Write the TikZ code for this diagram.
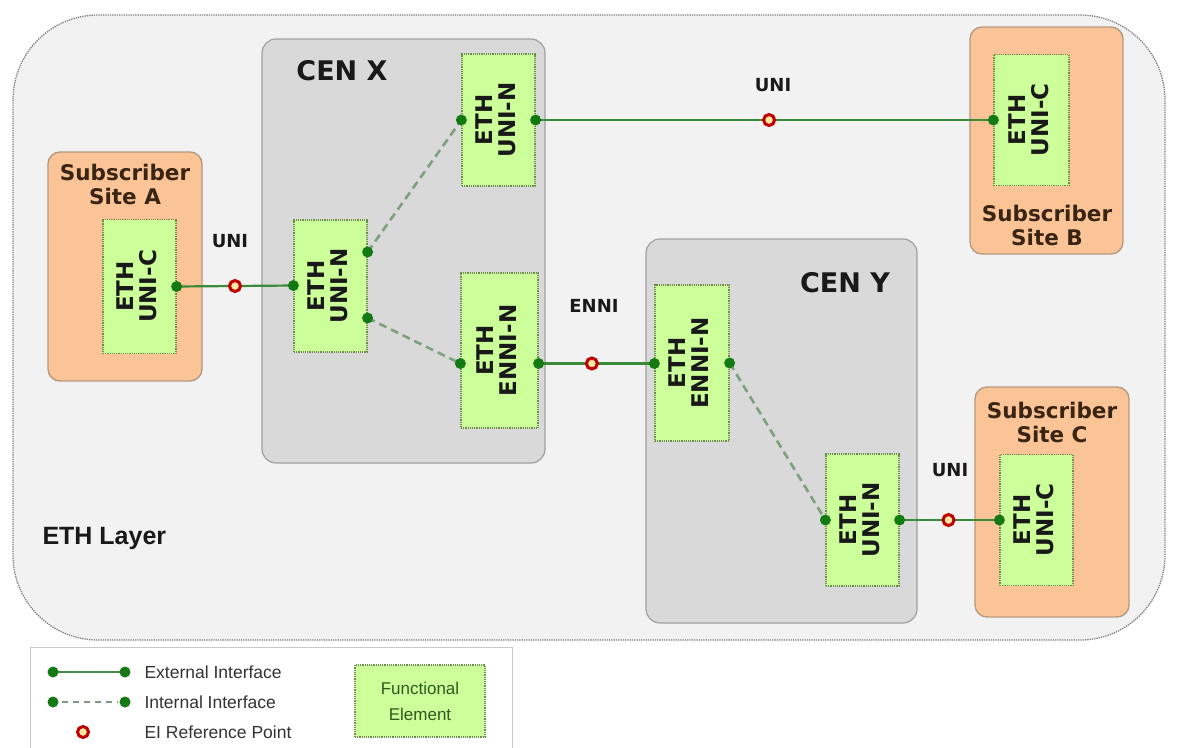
\documentclass[tikz,border=0pt]{standalone}
\usepackage{fontspec}
\setmainfont{Liberation Sans}
\newfontfamily\vfont{DejaVu Sans}
\definecolor{outerfill}{HTML}{F2F2F2}
\definecolor{outerline}{HTML}{7F7F7F}
\definecolor{cenfill}{HTML}{D9D9D9}
\definecolor{cenline}{HTML}{A0A0A0}
\definecolor{sitefill}{HTML}{FAC497}
\definecolor{siteline}{HTML}{B59A80}
\definecolor{fefill}{HTML}{CCFF99}
\definecolor{feline}{HTML}{6E8A4A}
\definecolor{dotgreen}{HTML}{137A13}
\definecolor{extgreen}{HTML}{3A8A3A}
\definecolor{intgreen}{HTML}{7FA07F}
\definecolor{refred}{HTML}{C00000}
\definecolor{refin}{HTML}{FFE7A6}
\definecolor{sitetext}{HTML}{3A2414}
\definecolor{legendline}{HTML}{C8C8C8}
\definecolor{legendfe}{HTML}{2E5A1E}
\newcommand\fel[1]{\rotatebox{90}{\begin{tabular}{@{}c@{}}#1\end{tabular}}}
\begin{document}
\begin{tikzpicture}[x=1pt,y=-1pt,
  outerbox/.style={draw=outerline, densely dotted, line width=1.3pt, fill=outerfill, rounded corners=85pt},
  cenbox/.style={draw=cenline, line width=1.2pt, fill=cenfill, rounded corners=14pt},
  sitebox/.style={draw=siteline, line width=1.4pt, fill=sitefill, rounded corners=12pt},
  fe/.style={draw=feline, densely dotted, line width=1.2pt, fill=fefill, inner sep=0pt,
    font=\vfont\bfseries\fontsize{23}{21}\selectfont, text=black!90},
  ext/.style={draw=extgreen, line width=2.2pt},
  intl/.style={draw=intgreen, line width=2.6pt, dash pattern=on 8pt off 5pt},
  refpt/.style={circle, draw=refred, line width=3pt, fill=refin, minimum size=11pt, inner sep=0pt},
  dotc/.style={fill=dotgreen},
  sitelbl/.style={font=\vfont\bfseries\fontsize{21.5}{24}\selectfont, text=sitetext, align=center},
  cenlbl/.style={font=\vfont\bfseries\fontsize{27}{30}\selectfont, text=black!90},
  iflbl/.style={font=\vfont\bfseries\fontsize{18}{20}\selectfont, text=black!90},
  legtext/.style={font=\fontsize{17.5}{20}\selectfont, text=black!80, anchor=west}
]
\useasboundingbox (0,0) rectangle (1177,747);
\fill[white] (0,0) rectangle (1177,747);

% ETH layer
\draw[outerbox] (13,15) rectangle (1165,640);
\node[font=\bfseries\fontsize{25}{28}\selectfont, text=black!90, anchor=west] (ethlayer) at (39,538) {ETH Layer};

% CENs
\draw[cenbox] (262,39) rectangle (545,463);
\draw[cenbox] (646,239) rectangle (917,623);
\node[cenlbl] (cenx) at (342,71) {CEN X};
\node[cenlbl] (ceny) at (845,283) {CEN Y};

% Subscriber sites
\draw[sitebox] (48,152) rectangle (202,381);
\draw[sitebox] (970,27) rectangle (1123,254);
\draw[sitebox] (975,387) rectangle (1129,617);
\node[sitelbl] (sa) at (125,184) {Subscriber\\Site A};
\node[sitelbl] (sb) at (1047,225) {Subscriber\\Site B};
\node[sitelbl] (sc) at (1052,422) {Subscriber\\Site C};

% Functional elements
\node[fe, minimum width=73pt, minimum height=134pt] (feA) at (139.5,286.5) {\fel{ETH\\UNI-C}};
\node[fe, minimum width=73pt, minimum height=132pt] (cxU) at (498.5,120) {\fel{ETH\\UNI-N}};
\node[fe, minimum width=73pt, minimum height=132pt] (cxL) at (330.5,286) {\fel{ETH\\UNI-N}};
\node[fe, minimum width=77pt, minimum height=155pt] (cxE) at (499.5,350.5) {\fel{ETH\\ENNI-N}};
\node[fe, minimum width=74pt, minimum height=156pt] (cyE) at (692,363) {\fel{ETH\\ENNI-N}};
\node[fe, minimum width=73pt, minimum height=132pt] (cyU) at (862.5,520) {\fel{ETH\\UNI-N}};
\node[fe, minimum width=75pt, minimum height=131pt] (feB) at (1031.5,120) {\fel{ETH\\UNI-C}};
\node[fe, minimum width=73pt, minimum height=131pt] (feC) at (1036.5,520) {\fel{ETH\\UNI-C}};

% interface points
\coordinate (pA) at (feA.east);
\coordinate (pLw) at ([yshift=0.5pt]cxL.west);
\coordinate (pLu) at ([yshift=34pt]cxL.east);
\coordinate (pLd) at ([yshift=-32pt]cxL.east);
\coordinate (pUw) at (cxU.west);
\coordinate (pUe) at (cxU.east);
\coordinate (pEw) at ([yshift=-13pt]cxE.west);
\coordinate (pEe) at ([yshift=-13pt]cxE.east);
\coordinate (pYEw) at ([yshift=-0.5pt]cyE.west);
\coordinate (pYEe) at (cyE.east);
\coordinate (pYUw) at (cyU.west);
\coordinate (pYUe) at (cyU.east);
\coordinate (pB) at (feB.west);
\coordinate (pC) at (feC.west);

% internal interfaces
\draw[intl] (pLu) -- (pUw);
\draw[intl] (pLd) -- (pEw);
\draw[intl] (pYEe) -- (pYUw);

% external interfaces with reference points
\draw[ext] (pA) -- node[refpt, pos=0.5] (r1) {} (pLw);
\draw[ext] (pUe) -- node[refpt, pos=0.51] (r2) {} (pB);
\draw[ext] (pEe) -- node[refpt, pos=0.46] (r3) {} (pYEw);
\draw[ext] (pYUe) -- node[refpt, pos=0.49] (r4) {} (pC);

\foreach \p in {pA,pLw,pLu,pLd,pUw,pUe,pEw,pEe,pYEw,pYEe,pYUw,pYUe,pB,pC}
  \fill[dotc] (\p) circle (5.5pt);

\node[iflbl] (l1) at (230,241) {UNI};
\node[iflbl] (l2) at (773,85) {UNI};
\node[iflbl] (l3) at (594,306) {ENNI};
\node[iflbl] (l4) at (950,470) {UNI};

% legend
\draw[legendline, line width=0.8pt, fill=white] (30,647) rectangle (512,760);
\coordinate (e1) at (53,672); \coordinate (e2) at (125,672);
\coordinate (i1) at (53,702); \coordinate (i2) at (125,702);
\draw[draw=extgreen!80!gray, line width=2.2pt] (e1) -- (e2);
\draw[draw=intgreen!80!gray, line width=2.2pt, dash pattern=on 6pt off 5pt] ([xshift=9pt]i1) -- ([xshift=-7pt]i2);
\foreach \p in {e1,e2,i1,i2} \fill[dotc] (\p) circle (5.5pt);
\node[refpt] (lr) at (83,732) {};
\node[legtext] (t1) at (141,672) {External Interface};
\node[legtext] (t2) at (141,702) {Internal Interface};
\node[legtext] (t3) at (141,732) {EI Reference Point};
\node[draw=feline, densely dotted, line width=1.2pt, fill=fefill, minimum width=130pt, minimum height=72pt,
  font=\fontsize{17}{26}\selectfont, text=legendfe, align=center] (lfe) at (420,701) {Functional\\Element};
\end{tikzpicture}
\end{document}
